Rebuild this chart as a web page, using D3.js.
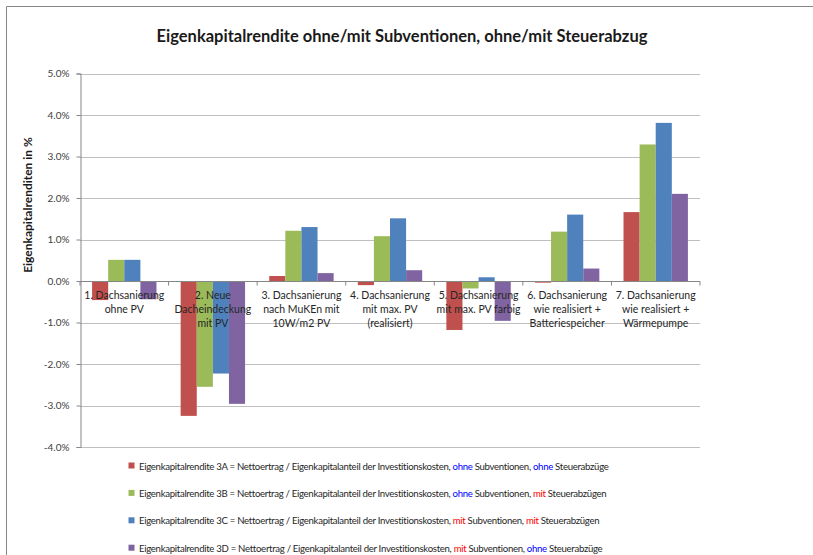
<!DOCTYPE html>
<html><head><meta charset="utf-8">
<script src="https://cdn.jsdelivr.net/npm/d3@7"></script>
<style>body{margin:0;background:#fff}svg{display:block}text{font-family:Lato,"Open Sans",sans-serif}</style>
</head><body><svg id="c" width="813" height="555"></svg>
<script>
const categories = [
  ["1. Dachsanierung","ohne PV"],
  ["2. Neue","Dacheindeckung","mit PV"],
  ["3. Dachsanierung","nach MuKEn mit","10W/m2 PV"],
  ["4. Dachsanierung","mit max. PV","(realisiert)"],
  ["5. Dachsanierung","mit max. PV farbig"],
  ["6. Dachsanierung","wie realisiert +","Batteriespeicher"],
  ["7. Dachsanierung","wie realisiert +","Wärmepumpe"]
];
const series3A = [-0.46, -3.25, 0.12, -0.10, -1.18, -0.04, 1.66];
const series3B = [0.51, -2.55, 1.21, 1.08, -0.18, 1.19, 3.29];
const series3C = [0.51, -2.23, 1.30, 1.51, 0.09, 1.60, 3.81];
const series3D = [-0.44, -2.96, 0.19, 0.26, -0.96, 0.30, 2.10];
const seriesNames = ["3A","3B","3C","3D"];
const colors = ["#C0504D","#9BBB59","#4F81BD","#8064A2"];
const yTicks = [5,4,3,2,1,0,-1,-2,-3,-4];
const legendTexts = [
  [["Eigenkapitalrendite 3A = Nettoertrag / Eigenkapitalanteil der Investitionskosten, ",null],["ohne","#0000FF"],[" Subventionen, ",null],["ohne","#0000FF"],[" Steuerabzüge",null]],
  [["Eigenkapitalrendite 3B = Nettoertrag / Eigenkapitalanteil der Investitionskosten, ",null],["ohne","#0000FF"],[" Subventionen, ",null],["mit","#FF0000"],[" Steuerabzügen",null]],
  [["Eigenkapitalrendite 3C = Nettoertrag / Eigenkapitalanteil der Investitionskosten, ",null],["mit","#FF0000"],[" Subventionen, ",null],["mit","#FF0000"],[" Steuerabzügen",null]],
  [["Eigenkapitalrendite 3D = Nettoertrag / Eigenkapitalanteil der Investitionskosten, ",null],["mit","#FF0000"],[" Subventionen, ",null],["ohne","#0000FF"],[" Steuerabzüge",null]]
];
const allSeries = [series3A, series3B, series3C, series3D];

const svg = d3.select("#c");
// frame
svg.append("line").attr("x1",6.5).attr("x2",813).attr("y1",6.5).attr("y2",6.5).attr("stroke","#868686");
svg.append("line").attr("x1",6.5).attr("x2",6.5).attr("y1",6.5).attr("y2",555).attr("stroke","#868686");

const L=80, R=700;
const y = d3.scaleLinear().domain([-4,5]).range([447,73.5]);
const x0 = d3.scaleBand().domain(d3.range(categories.length)).range([L,R]).paddingInner(0.273).paddingOuter(0.1365);
const x1 = d3.scaleBand().domain(d3.range(4)).range([0,x0.bandwidth()]);

// gridlines
svg.append("g").selectAll("line").data(yTicks.filter(t=>t!==0)).join("line")
  .attr("x1",L).attr("x2",R).attr("y1",d=>Math.round(y(d))+0.5).attr("y2",d=>Math.round(y(d))+0.5)
  .attr("stroke","#BFBFBF").attr("stroke-width",1.2);

// y axis
const yAxis = d3.axisLeft(y).tickValues(yTicks).tickSize(4).tickPadding(7).tickFormat(d=>d.toFixed(1)+"%");
const gy = svg.append("g").attr("transform",`translate(${L+0.5},0)`).call(yAxis);
gy.select(".domain").attr("stroke","#868686");
gy.selectAll(".tick line").attr("stroke","#868686");
gy.selectAll(".tick text").attr("font-size",10).attr("fill","#404040").style("font-family","Lato,sans-serif");

// bars
const g = svg.append("g");
categories.forEach((c,i)=>{
  allSeries.forEach((s,j)=>{
    const v=s[i];
    g.append("rect")
      .attr("x",x0(i)+x1(j)).attr("width",x1.bandwidth())
      .attr("y",y(Math.max(0,v))).attr("height",Math.abs(y(v)-y(0)))
      .attr("fill",colors[j]);
  });
});

// x axis line at zero with category ticks
const zy = Math.round(y(0))+0.5;
svg.append("line").attr("x1",L).attr("x2",R).attr("y1",zy).attr("y2",zy).attr("stroke","#868686");
const step = (R-L)/categories.length;
svg.append("g").selectAll("line").data(d3.range(categories.length+1)).join("line")
  .attr("x1",d=>L+d*step).attr("x2",d=>L+d*step).attr("y1",zy).attr("y2",zy+4).attr("stroke","#868686");

// category labels
categories.forEach((lines,i)=>{
  const cx = x0(i)+x0.bandwidth()/2;
  const t = svg.append("text").attr("text-anchor","middle").attr("font-size",10.5).attr("fill","#262626");
  lines.forEach((ln,k)=>{
    t.append("tspan").attr("x",cx).attr("y",299+k*14).text(ln);
  });
});

// title
svg.append("text").attr("x",402).attr("y",42).attr("text-anchor","middle")
  .attr("font-size",16.5).attr("font-weight","bold").attr("fill","#1a1a1a")
  .text("Eigenkapitalrendite ohne/mit Subventionen, ohne/mit Steuerabzug");

// y title
svg.append("text").attr("transform","translate(32,205) rotate(-90)").attr("text-anchor","middle")
  .attr("font-size",12).attr("font-weight","bold").attr("fill","#1a1a1a")
  .text("Eigenkapitalrenditen in %");

// legend
legendTexts.forEach((parts,i)=>{
  const yy = 466 + i*27.4;
  svg.append("rect").attr("x",128.5).attr("y",yy-3.5).attr("width",6).attr("height",6).attr("fill",colors[i]);
  const t = svg.append("text").attr("x",139).attr("y",yy+3.5).attr("font-size",9.6)
    .attr("letter-spacing","-0.3").attr("fill","#262626");
  parts.forEach(([s,c])=>{
    const ts=t.append("tspan").text(s);
    if(c) ts.attr("fill",c);
  });
});
</script></body></html>
